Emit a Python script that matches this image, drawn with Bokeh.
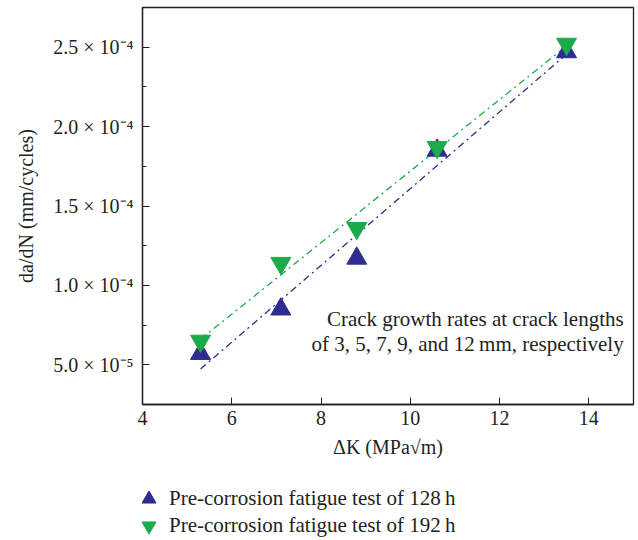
import numpy as np
from bokeh.plotting import figure
from bokeh.layouts import column
from bokeh.models import (FixedTicker, CustomJSTickFormatter, Legend, LegendItem,
                          Label, Range1d)
from bokeh.embed import file_html
from bokeh.resources import INLINE

# Data
delta_k = [5.3, 7.1, 8.8, 10.6, 13.5]
rate_128h = [5.7e-5, 8.5e-5, 1.17e-4, 1.85e-4, 2.47e-4]
rate_192h = [6.5e-5, 1.14e-4, 1.36e-4, 1.87e-4, 2.52e-4]
series_names = ["Pre-corrosion fatigue test of 128\u2009h",
                "Pre-corrosion fatigue test of 192\u2009h"]
note_lines = ["Crack growth rates at crack lengths",
              "of 3, 5, 7, 9, and 12\u2009mm, respectively"]
x_ticks = [4, 6, 8, 10, 12, 14]
y_ticks = [5e-5, 1.0e-4, 1.5e-4, 2.0e-4, 2.5e-4]
y_minor = [7.5e-5, 1.25e-4, 1.75e-4, 2.25e-4]

BLUE = "#2e2d8f"
GREEN = "#1bab4b"
FONT = "Liberation Serif"
TXT = "#231f20"

p = figure(frame_width=491, frame_height=397, output_backend="svg", toolbar_location=None,
           x_range=Range1d(4, 15), y_range=Range1d(2.5e-5, 2.75e-4),
           min_border_left=142, min_border_right=3, min_border_top=7,
           min_border_bottom=72)
p.xgrid.visible = False
p.ygrid.visible = False
p.outline_line_color = "#231f20"
p.outline_line_width = 1.3
p.background_fill_color = "white"
p.border_fill_color = "white"

# fitted trend lines (least squares from the data)
xs = np.array(delta_k)
for ys, col in ((rate_128h, BLUE), (rate_192h, GREEN)):
    c = np.polyfit(xs, np.array(ys), 1)
    xl = np.array([xs.min(), xs.max()])
    p.line(xl, np.polyval(c, xl), line_color=col, line_width=1.3, line_dash="7 4 2 4")

p.scatter(delta_k, rate_128h, marker="triangle", size=20, fill_color=BLUE, line_color=BLUE)
p.scatter(delta_k, rate_192h, marker="inverted_triangle", size=20, fill_color=GREEN,
          line_color=GREEN)

# axes
xa = p.xaxis[0]
ya = p.yaxis[0]
xa.ticker = FixedTicker(ticks=x_ticks, minor_ticks=[])
ya.ticker = FixedTicker(ticks=y_ticks, minor_ticks=y_minor)
ya.formatter = CustomJSTickFormatter(code="""
const e = tick < 9.9e-5 ? -5 : -4;
const m = tick / Math.pow(10, e);
return m.toFixed(1) + " \u00d7 10" + (e == -5 ? "\u207b\u2075" : "\u207b\u2074");
""")
for ax in (xa, ya):
    ax.axis_line_color = "#231f20"
    ax.axis_line_width = 1.3
    ax.major_tick_in = 7
    ax.major_tick_out = 0
    ax.minor_tick_in = 4
    ax.minor_tick_out = 0
    ax.major_tick_line_color = "#231f20"
    ax.minor_tick_line_color = "#231f20"
    ax.major_label_text_font = FONT
    ax.major_label_text_font_size = "20px"
    ax.major_label_text_color = TXT
    ax.axis_label_text_font = FONT
    ax.axis_label_text_font_size = "20px"
    ax.axis_label_text_font_style = "normal"
    ax.axis_label_text_color = TXT
xa.axis_label = "\u0394K (MPa\u221am)"
ya.axis_label = "da/dN (mm/cycles)"
xa.major_label_standoff = 6
ya.major_label_standoff = 9
xa.axis_label_standoff = 8
ya.axis_label_standoff = 13

# annotation
for i, line in enumerate(note_lines):
    p.add_layout(Label(x=14.78, y=7.9e-5 - i * 1.58e-5, text=line,
                       text_align="right", text_baseline="middle",
                       text_font=FONT, text_font_size="21px", text_color=TXT))

# legend in a strip below the chart (its frame is aligned with the chart's frame)
lg = figure(width=636, height=62, output_backend="svg", toolbar_location=None,
            x_range=Range1d(0, 1), y_range=Range1d(0, 1),
            x_axis_location=None, y_axis_location=None,
            min_border=0, outline_line_color=None)
lg.xgrid.visible = False
lg.ygrid.visible = False
l1 = lg.scatter(delta_k, rate_128h, marker="triangle", fill_color=BLUE, line_color=BLUE)
l2 = lg.scatter(delta_k, rate_192h, marker="inverted_triangle", fill_color=GREEN,
                line_color=GREEN)
for name, rend, loc in ((series_names[0], l1, (-11, 22)), (series_names[1], l2, (-11, -5))):
    lg.add_layout(Legend(items=[LegendItem(label=name, renderers=[rend])],
                         location=loc, orientation="vertical",
                         label_text_font=FONT, label_text_font_size="21px",
                         label_text_color=TXT, border_line_color=None,
                         background_fill_alpha=0, glyph_width=35, glyph_height=35,
                         label_height=20, spacing=0, padding=0, margin=0,
                         label_standoff=3), "center")

layout = column(p, lg, spacing=0)
open("out.html", "w").write(file_html(layout, INLINE))
